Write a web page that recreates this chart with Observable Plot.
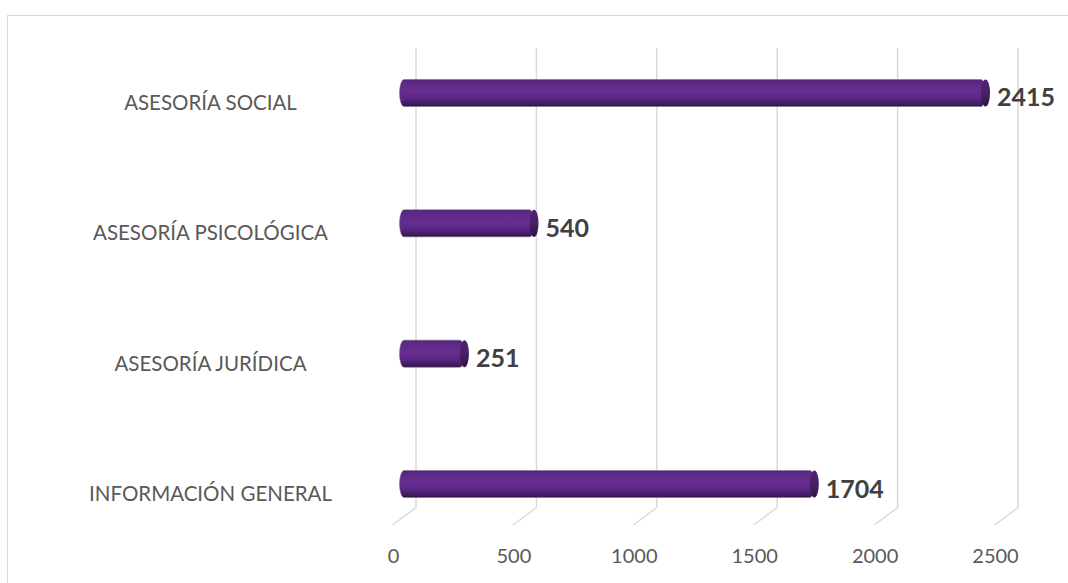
<!DOCTYPE html>
<html><head><meta charset="utf-8">
<script src="https://cdn.jsdelivr.net/npm/d3@7"></script>
<script src="https://cdn.jsdelivr.net/npm/@observablehq/plot@0.6"></script>
<style>
html,body{margin:0;padding:0;background:#fff;overflow:hidden;}
#wrap{position:relative;width:1068px;height:583px;overflow:hidden;}
#border{position:absolute;left:7px;top:15px;width:2000px;height:2000px;border-left:1.5px solid #d9d9d9;border-top:1.5px solid #d9d9d9;}
#chart{position:absolute;left:0;top:0;}
</style></head><body><div id="wrap"><div id="border"></div><div id="chart"></div></div>
<script>
const categories = ["ASESORÍA SOCIAL", "ASESORÍA PSICOLÓGICA", "ASESORÍA JURÍDICA", "INFORMACIÓN GENERAL"];
const values = [2415, 540, 251, 1704];
const tickValues = [0, 500, 1000, 1500, 2000, 2500];

const data = categories.map((c, i) => ({category: c, value: values[i]}));

// floor segments of the 3D gridlines, placed with the x scale
function floorLines(index, scales) {
  const g = d3.create("svg:g").attr("stroke", "#d9d9d9").attr("stroke-width", 1.5).attr("fill", "none");
  if (!scales || !scales.x) return g.node();
  for (const t of tickValues) {
    const xb = scales.x(t) + 11.5;
    g.append("path").attr("d", `M${xb},508L${xb - 23},525`);
  }
  return g.node();
}

const chart = Plot.plot({
  width: 1068,
  height: 583,
  marginTop: 0, marginRight: 0, marginBottom: 0, marginLeft: 0,
  style: {fontFamily: "Lato, 'Open Sans', sans-serif", background: "transparent", overflow: "visible"},
  x: {domain: [0, 2500], range: [404, 1006], axis: null},
  y: {domain: categories, range: [27.8, 549.2], paddingInner: 0.7928, paddingOuter: 0.3964, round: false, axis: null},
  marks: [
    Plot.ruleX(tickValues, {x: d => d, dx: 11.5, insetTop: 48, insetBottom: 75, stroke: "#d9d9d9", strokeWidth: 1.5}),
    floorLines,
    Plot.barX(data, {x1: () => 0, x2: "value", y: "category", insetLeft: -4.5, fill: "url(#barGrad)", rx: 4.5, ry: 13.5, stroke: "#7a6a8a", strokeWidth: 0.5}),
    Plot.barX(data, {x1: "value", x2: "value", y: "category", insetLeft: -4.5, insetRight: -4.5, rx: 4.5, ry: 13.5, fill: "url(#capGrad)"}),
    Plot.text(data, {x: "value", y: "category", text: d => String(d.value), textAnchor: "start", lineAnchor: "middle", dx: 11, dy: 5, fontWeight: "bold", fontSize: 25, fill: "#404040"}),
    Plot.text(data, {y: "category", text: "category", frameAnchor: "left", textAnchor: "middle", lineAnchor: "middle", dx: 210, dy: 10, fontSize: 20.5, fill: "#595959"}),
    Plot.text(tickValues, {x: d => d, text: d => String(d), frameAnchor: "bottom", lineAnchor: "middle", dx: -11, dy: -27, fontSize: 20, fill: "#595959"})
  ]
});

const defs = d3.select(chart).insert("defs", ":first-child");
const bg = defs.append("linearGradient").attr("id", "barGrad").attr("x1", 0).attr("y1", 0).attr("x2", 0).attr("y2", 1);
[[0, "#53257a"], [0.15, "#5e2a87"], [0.45, "#672d91"], [0.7, "#592783"], [0.9, "#421c62"], [1, "#2e1243"]]
  .forEach(([o, c]) => bg.append("stop").attr("offset", o).attr("stop-color", c));
const cg = defs.append("linearGradient").attr("id", "capGrad").attr("x1", 0).attr("y1", 0).attr("x2", 0).attr("y2", 1);
[[0, "#4e2270"], [0.5, "#4a2068"], [1, "#2f1342"]]
  .forEach(([o, c]) => cg.append("stop").attr("offset", o).attr("stop-color", c));

document.getElementById("chart").appendChild(chart);
</script>
</body></html>
